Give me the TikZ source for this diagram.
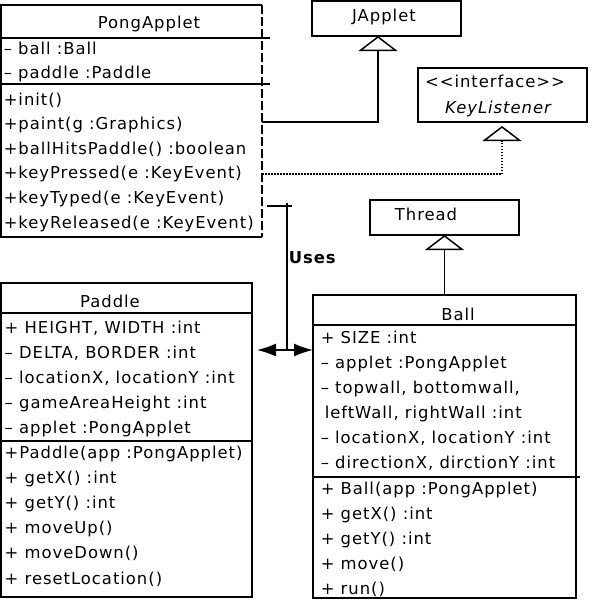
\documentclass[tikz,border=0pt]{standalone}
\usepackage{fontspec}
\setmainfont[LetterSpace=6]{DejaVu Sans}
\usetikzlibrary{arrows.meta}

\begin{document}
\fontsize{16.4}{20}\selectfont
\begin{tikzpicture}[x=1pt, y=-1pt, line width=1.5pt,
  box/.style={anchor=north west, inner sep=0pt, outer sep=0pt},
  cls/.style={box, draw},
  row/.style={anchor=base west, inner sep=0pt},
  ttl/.style={anchor=base, inner sep=0pt},
  inherit/.style={-{Triangle[open, length=15pt, width=39pt, line width=1.5pt]}},
  realize/.style={inherit, dash pattern=on 1.5pt off 1.5pt},
  uses/.style={-{Latex[length=19pt, width=13pt]}}]
  \useasboundingbox (0,0) rectangle (592,600);

  % PongApplet (dashed right side)
  \node[box, minimum width=261pt, minimum height=232pt] (pong) at (1,5) {};
  \draw (pong.north east) -- (pong.north west) -- (pong.south west) -- (pong.south east);
  \draw[dash pattern=on 9pt off 3pt] (pong.north east) -- (pong.south east);
  \draw (1,38) -- (270,38);
  \draw (1,84) -- (270,84);
  \node[ttl] (pongTitle) at (149,28) {PongApplet};
  \foreach \txt [count=\i] in {{– ball :Ball},{– paddle :Paddle}}
    \node[row] (pongAttr\i) at (3,30+24*\i) {\txt};
  \foreach \txt [count=\i] in {{+init()},{+paint(g :Graphics)},{+ballHitsPaddle() :boolean},
      {+keyPressed(e :KeyEvent)},{+keyTyped(e :KeyEvent)},{+keyReleased(e :KeyEvent)}}
    \node[row] (pongOp\i) at (3,80.4+24.6*\i) {\txt};

  % Superclasses and interface
  \node[cls, minimum width=149pt, minimum height=35pt] (japplet) at (312,1) {};
  \node[ttl] (japTitle) at (384,21) {JApplet};
  \node[cls, minimum width=169pt, minimum height=54pt] (keylis) at (418,68) {};
  \node[ttl] (keyStereo) at (495,87) {<{}<interface>{}>};
  \node[ttl] (keyTitle) at (498,113) {\itshape KeyListener};
  \node[cls, minimum width=149pt, minimum height=35pt] (thread) at (370,200) {};
  \node[ttl] (threadTitle) at (426,220) {Thread};

  % Paddle
  \node[cls, minimum width=251pt, minimum height=314pt] (paddle) at (1,283) {};
  \draw (1,313) -- (252,313);
  \draw (1,441) -- (252,441);
  \node[ttl] (padTitle) at (110,307) {Paddle};
  \foreach \txt [count=\i] in {{+ HEIGHT, WIDTH :int},{– DELTA, BORDER :int},
      {– locationX, locationY :int},{– gameAreaHeight :int},{– applet :PongApplet}}
    \node[row] (padAttr\i) at (4,308+25*\i) {\txt};
  \foreach \txt [count=\i] in {{+Paddle(app :PongApplet)},{+ getX() :int},{+ getY() :int},
      {+ moveUp()},{+ moveDown()},{+ resetLocation()}}
    \node[row] (padOp\i) at (4,432.8+25.2*\i) {\txt};

  % Ball
  \node[cls, minimum width=263pt, minimum height=303pt] (ball) at (313,295) {};
  \draw (313,325) -- (576,325);
  \draw (313,477) -- (580,477);
  \node[ttl] (ballTitle) at (458,320) {Ball};
  \foreach \txt [count=\i] in {{+ SIZE :int},{– applet :PongApplet},{– topwall, bottomwall,},
      {\hspace{4pt}leftWall, rightWall :int},{– locationX, locationY :int},{– directionX, dirctionY :int}}
    \node[row] (ballAttr\i) at (320,318+25*\i) {\txt};
  \foreach \txt [count=\i] in {{+ Ball(app :PongApplet)},{+ getX() :int},{+ getY() :int},
      {+ move()},{+ run()}}
    \node[row] (ballOp\i) at (320,469+25*\i) {\txt};

  % Generalisation and realisation
  \coordinate (jBend) at (378,122);
  \draw[inherit] (pong.east |- jBend) -- (jBend) -- (jBend |- japplet.south);
  \coordinate (kBend) at (502,174);
  \draw[realize, shorten >=4pt] (pong.east |- kBend) -- (kBend) -- (kBend |- keylis.south);
  \draw[inherit] (ball.north) -- (thread.south);

  % Uses association
  \coordinate (uTop) at (287,206);
  \coordinate (uJoin) at (287,350);
  \draw ([xshift=5pt]pong.east |- uTop) -- ++(25,0);
  \draw ([yshift=3pt]uTop) -- (uJoin);
  \draw[uses, shorten >=5pt] (uJoin) -- (uJoin -| paddle.east);
  \draw[uses] (uJoin) -- (uJoin -| ball.west);
  \node[row, font=\bfseries] (usesLbl) at (288,263) {Uses};
\end{tikzpicture}
\end{document}
